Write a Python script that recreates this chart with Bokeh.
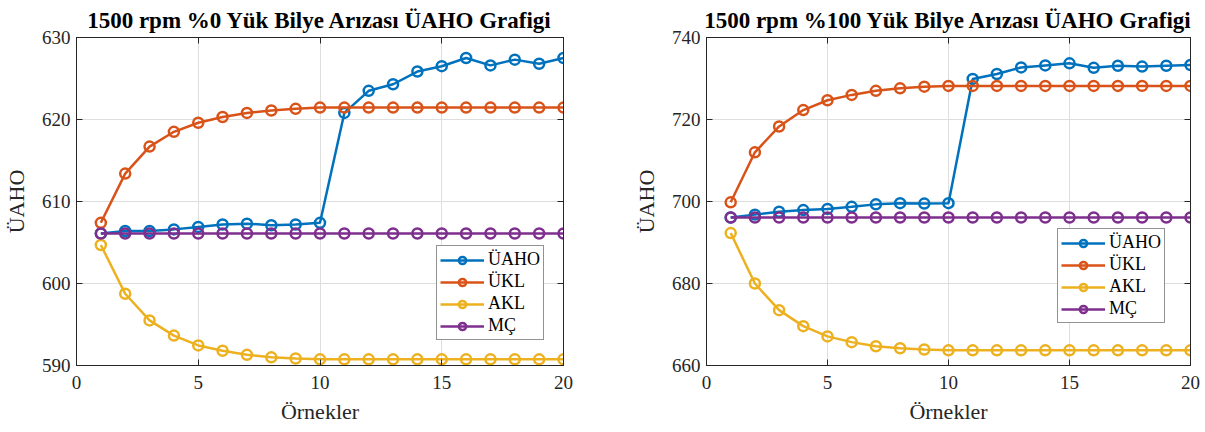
from bokeh.plotting import figure
from bokeh.layouts import row
from bokeh.models import Range1d, LinearAxis, FixedTicker
from bokeh.embed import file_html
from bokeh.resources import INLINE

x = [1, 2, 3, 4, 5, 6, 7, 8, 9, 10, 11, 12, 13, 14, 15, 16, 17, 18, 19, 20]

left_title = "1500 rpm %0 Yük Bilye Arızası ÜAHO Grafigi"
left_uaho = [606.1, 606.4, 606.4, 606.6, 606.9, 607.2, 607.3, 607.1, 607.2, 607.4,
             620.8, 623.5, 624.3, 625.85, 626.5, 627.5, 626.6, 627.3, 626.8, 627.5]
left_ukl = [607.4, 613.4, 616.7, 618.5, 619.6, 620.3, 620.8, 621.1, 621.3, 621.45,
            621.45, 621.45, 621.45, 621.45, 621.45, 621.45, 621.45, 621.45, 621.45, 621.45]
left_akl = [604.7, 598.75, 595.5, 593.65, 592.45, 591.8, 591.3, 591.0, 590.85, 590.75,
            590.75, 590.75, 590.75, 590.75, 590.75, 590.75, 590.75, 590.75, 590.75, 590.75]
left_mc = [606.1, 606.1, 606.1, 606.1, 606.1, 606.1, 606.1, 606.1, 606.1, 606.1,
           606.1, 606.1, 606.1, 606.1, 606.1, 606.1, 606.1, 606.1, 606.1, 606.1]
left_yticks = [590, 600, 610, 620, 630]

right_title = "1500 rpm %100 Yük Bilye Arızası ÜAHO Grafigi"
right_uaho = [696.1, 696.8, 697.5, 697.9, 698.2, 698.7, 699.3, 699.6, 699.5, 699.6,
              729.9, 731.1, 732.7, 733.2, 733.7, 732.6, 733.1, 732.9, 733.1, 733.3]
right_ukl = [699.8, 712.0, 718.3, 722.3, 724.7, 726.0, 727.0, 727.6, 728.0, 728.2,
             728.2, 728.2, 728.2, 728.2, 728.2, 728.2, 728.2, 728.2, 728.2, 728.2]
right_akl = [692.3, 680.0, 673.5, 669.6, 667.1, 665.7, 664.7, 664.2, 663.9, 663.7,
             663.7, 663.7, 663.7, 663.7, 663.7, 663.7, 663.7, 663.7, 663.7, 663.7]
right_mc = [696.1, 696.1, 696.1, 696.1, 696.1, 696.1, 696.1, 696.1, 696.1, 696.1,
            696.1, 696.1, 696.1, 696.1, 696.1, 696.1, 696.1, 696.1, 696.1, 696.1]
right_yticks = [660, 680, 700, 720, 740]

xticks = [0, 5, 10, 15, 20]
series_names = ["ÜAHO", "ÜKL", "AKL", "MÇ"]
colors = ["#0072BD", "#D95319", "#EDB120", "#7E2F8E"]

FONT = "Liberation Serif"
AX = "#262626"


def make(title, ys, yr, yticks, width, bl, br, leg_loc):
    p = figure(width=width, height=432, output_backend="svg", toolbar_location=None,
               x_range=Range1d(0, 20), y_range=Range1d(yr[0], yr[1]),
               min_border_left=bl, min_border_right=br, min_border_top=33,
               min_border_bottom=67)
    p.title.text = title
    p.title.align = "center"
    p.title.text_font = FONT
    p.title.text_font_size = "23px"
    p.title.text_font_style = "bold"
    p.title.text_color = "black"
    p.outline_line_color = AX
    p.outline_line_alpha = 1
    for ax in (p.xaxis[0], p.yaxis[0]):
        ax.major_label_text_font = FONT
        ax.major_label_text_font_size = "19px"
        ax.major_label_text_color = AX
        ax.axis_label_text_font = FONT
        ax.axis_label_text_font_size = "22px"
        ax.axis_label_text_font_style = "normal"
        ax.axis_label_text_color = AX
        ax.axis_line_color = AX
        ax.major_tick_line_color = AX
        ax.major_tick_in = 6
        ax.major_tick_out = 0
        ax.minor_tick_line_color = None
    p.xaxis.ticker = FixedTicker(ticks=xticks)
    p.yaxis.ticker = FixedTicker(ticks=yticks)
    p.xaxis.axis_label = "Örnekler"
    p.yaxis.axis_label = "ÜAHO"
    p.xaxis.major_label_standoff = 10
    p.yaxis.major_label_standoff = 6
    p.xaxis.axis_label_standoff = 7
    p.yaxis.axis_label_standoff = 10
    p.xgrid.ticker = FixedTicker(ticks=xticks)
    p.ygrid.ticker = FixedTicker(ticks=yticks)
    p.grid.grid_line_color = "#dedede"
    for loc in ("right", "above"):
        a = LinearAxis(ticker=FixedTicker(ticks=yticks if loc == "right" else xticks),
                       major_label_text_font_size="0px", major_label_text_color=None,
                       major_label_standoff=0,
                       major_tick_in=6, major_tick_out=0, minor_tick_line_color=None,
                       axis_line_color=AX, major_tick_line_color=AX)
        p.add_layout(a, loc)
    for name, col, yv in zip(series_names, colors, ys):
        p.line(x, yv, line_color=col, line_width=2.5, legend_label=name)
        p.scatter(x, yv, marker="circle", size=10, line_color=col, line_width=2.5,
                  fill_alpha=0, legend_label=name)
    lg = p.legend[0]
    lg.location = leg_loc
    lg.label_text_font = FONT
    lg.label_text_font_size = "18px"
    lg.label_text_color = "black"
    lg.glyph_width = 44
    lg.glyph_height = 18
    lg.label_height = 18
    lg.spacing = 1
    lg.padding = 3
    lg.margin = 0
    lg.label_standoff = 4
    lg.border_line_color = AX
    lg.border_line_width = 1
    lg.background_fill_alpha = 1
    return p


p1 = make(left_title, [left_uaho, left_ukl, left_akl, left_mc], (590, 630), left_yticks,
          630, 75, 67, (360, 25))
p2 = make(right_title, [right_uaho, right_ukl, right_akl, right_mc], (660, 740), right_yticks,
          575, 74, 15, (351, 42))

layout = row(p1, p2)
open("out.html", "w").write(file_html(layout, INLINE))
